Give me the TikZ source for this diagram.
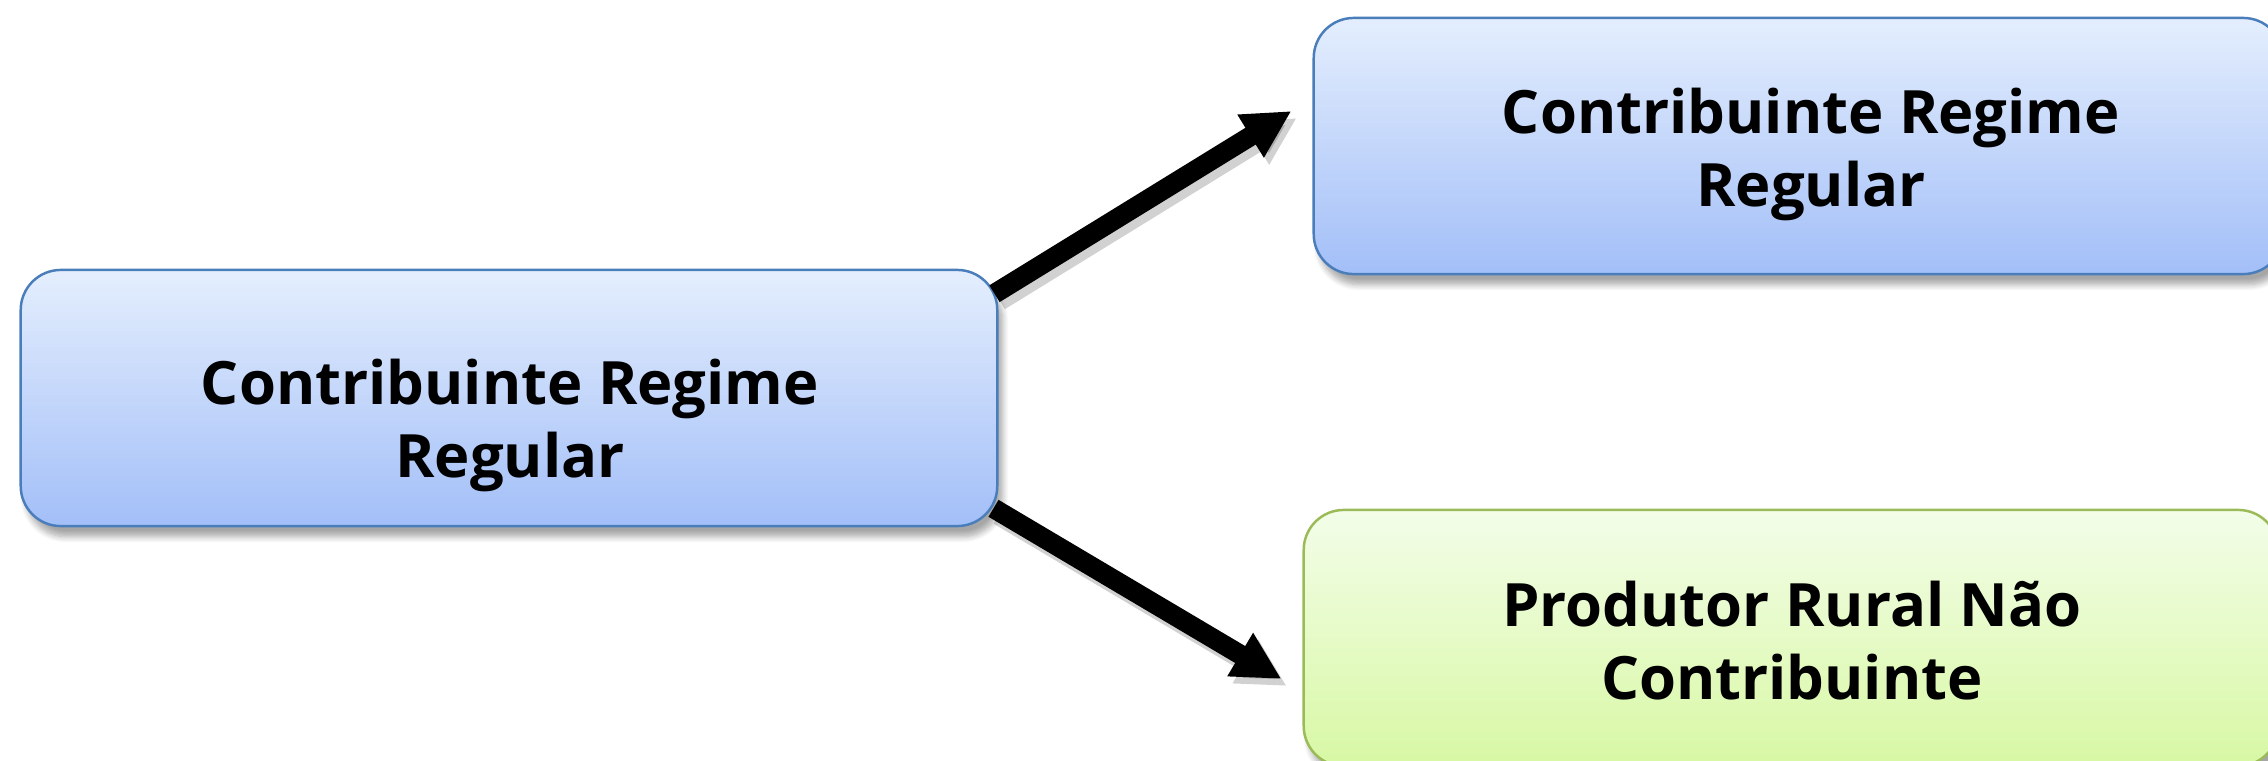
\documentclass[tikz,border=0pt]{standalone}
\usepackage{fontspec}
\newfontfamily\boxfont{Open Sans}
\usetikzlibrary{calc,arrows.meta,shadows.blur}
\definecolor{bluetop}{HTML}{E4EEFD}
\definecolor{bluebot}{HTML}{A3BFF8}
\definecolor{blueline}{HTML}{4A7EBB}
\definecolor{greentop}{HTML}{F3FDE9}
\definecolor{greenbot}{HTML}{D8F8A4}
\definecolor{greenline}{HTML}{9BBB59}
\tikzset{
  box/.style={draw, line width=0.7pt, rounded corners=0.4cm, minimum height=2.56cm,
    inner sep=0pt, blur shadow={shadow xshift=1.5pt, shadow yshift=-3pt, shadow blur steps=8, shadow opacity=35}},
  bluebox/.style={box, draw=blueline, top color=bluetop, bottom color=bluebot},
  greenbox/.style={box, draw=greenline, top color=greentop, bottom color=greenbot},
  lbl/.style={anchor=base, inner sep=0pt, font=\boxfont\bfseries\fontsize{17pt}{20.8pt}\selectfont},
  bigarrow/.style={line width=5.6pt, -{Triangle[length=0.48cm, width=0.47cm]}, black},
  arrowshadow/.style={line width=5.6pt, -{Triangle[length=0.48cm, width=0.47cm]}, black, opacity=0.18}
}
\newcommand{\twolines}[2]{\begin{tabular}[t]{@{}c@{}}#1\\#2\end{tabular}}
\begin{document}
\begin{tikzpicture}[x=0.01cm, y=-0.01cm]
\useasboundingbox (0,0) rectangle (2268,760);
\clip (0,0) rectangle (2268,760);
% boxes
\node[bluebox, minimum width=9.76cm] (L) at (509,398) {};
\node[bluebox, minimum width=9.69cm] (TR) at (1798.5,146) {};
\node[greenbox, minimum width=9.74cm] (BR) at (1791,638) {};
% labels
\node[lbl] (Lt) at (510,404) {\twolines{Contribuinte Regime}{Regular}};
\node[lbl] (TRt) at (1811,133) {\twolines{Contribuinte Regime}{Regular}};
\node[lbl] (BRt) at (1792,626) {\twolines{Produtor Rural Não}{Contribuinte}};
% arrow shadows
\draw[arrowshadow, transform canvas={xshift=1.5pt, yshift=-2pt}] ($(L.north east)+(-4,25)$) -- ($(TR.west)+(-21,-35)$);
\draw[arrowshadow, transform canvas={xshift=1.5pt, yshift=-2pt}] ($(L.south east)+(-5,-19)$) -- ($(BR.west)+(-21,41)$);
% arrows
\draw[bigarrow] ($(L.north east)+(-4,25)$) -- ($(TR.west)+(-21,-35)$);
\draw[bigarrow] ($(L.south east)+(-5,-19)$) -- ($(BR.west)+(-21,41)$);
\end{tikzpicture}
\end{document}
